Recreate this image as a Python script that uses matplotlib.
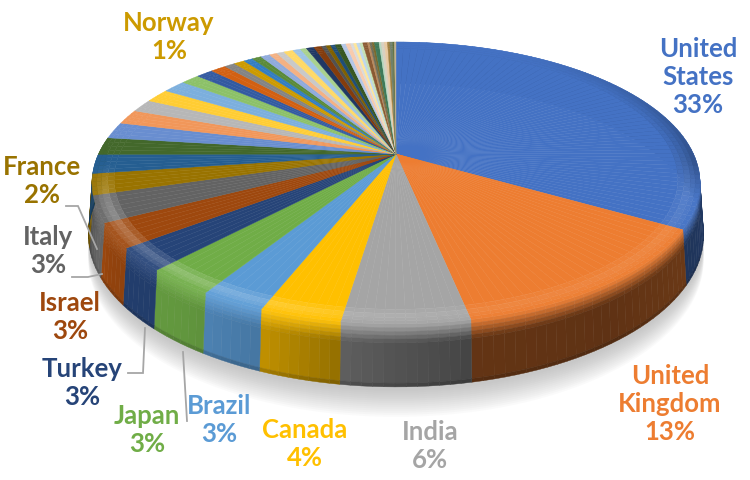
import numpy as np
import matplotlib
matplotlib.use('Agg')
import matplotlib.pyplot as plt
from matplotlib.colors import to_rgb

# ---- data (percent of total) ----
labelled_names = ["United\nStates", "United\nKingdom", "India", "Canada", "Brazil", "Japan",
                  "Turkey", "Israel", "Italy", "France"]
labelled_values = [33.4, 13.4, 5.6, 3.6, 2.9, 3.1, 2.6, 2.8, 3.0, 2.4]
middle_values = [2.2, 2.0, 1.9, 1.7, 1.5, 1.6, 1.5, 1.2, 1.1, 1.0, 0.7, 0.7]
middle_names = [None] * 11 + ["Norway"]
tail_values = [0.6, 0.6, 0.6, 0.5, 0.5, 0.6, 0.5, 0.4,
               0.5, 0.5, 0.3, 0.3, 0.3, 0.4, 0.3, 0.3, 0.2, 0.2, 0.2, 0.2,
               0.3, 0.15, 0.15, 0.15, 0.3, 0.15, 0.2, 0.2, 0.15, 0.2, 0.1, 0.1]
tail_colors = ["#327DC2", "#5A8A39", "#8FAADC", "#F4B183", "#C9C9C9", "#FFD966", "#9DC3E6", "#A9D18E", "#203864",
               "#843C0C", "#525252", "#7F6000", "#1F4E79", "#385723", "#B4C7E7", "#F8CBAD", "#DBDBDB",
               "#FFE699", "#BDD7EE", "#C5E0B4", "#8A5A33", "#B88A5E", "#6E6E5A", "#7A6A2E", "#3F7A5A",
               "#B8D8C0", "#D8D0C0", "#E8C8A0", "#A08040", "#70806A", "#5D6E3A", "#C0B090"]
head_colors = ["#4472C4", "#ED7D31", "#A5A5A5", "#FFC000", "#5B9BD5", "#70AD47",
               "#264478", "#9E480E", "#636363", "#997300",
               "#255E91", "#43682B", "#698ED0", "#F1975A", "#B7B7B7", "#FFCD33", "#7CAFDD", "#8CC168",
               "#335AA1", "#D26012", "#848484", "#CC9A00"]

values = labelled_values + middle_values + tail_values
names = labelled_names + middle_names + [None] * len(tail_values)
colors = head_colors + tail_colors

# ---- layout ----
CX, CY, A, B, K, H = 396, 155, 297.5, 135, 0.2057, 50
label_pos = {"United\nStates": (698, 77), "United\nKingdom": (670, 404), "India": (430, 446), "Canada": (305, 444),
             "Brazil": (219, 420), "Japan": (147, 430), "Turkey": (82, 383), "Israel": (70, 317),
             "Italy": (48, 251), "France": (42, 181), "Norway": (169, 37)}
leaders = [([66, 78, 97], [207, 207, 250]), ([72, 88, 102], [278, 278, 275]),
           ([128, 143, 145], [374, 374, 329]), ([187, 183], [422, 353])]


def project(pct, r=1.0):
    t = np.asarray(pct) * 2 * np.pi / 100
    X, v = r * np.sin(t), -r * np.cos(t)
    w = 1 - K * v
    return CX + A * X / w, CY + B * v / w, w


def shade(p):
    return np.interp(p, [20, 28, 40, 47, 52, 56, 60, 66, 68, 71, 80],
                     [.5, .5, .4, .42, .56, .76, .87, .92, 1.03, .75, .7])


def mix(c, d, a):
    return tuple((1 - a) * np.array(c) + a * np.array(d))


def scale(c, s):
    return tuple(np.clip(np.array(c) * s, 0, 1))


fig = plt.figure(figsize=(7.5, 4.81), dpi=100)
ax = fig.add_axes([0, 0, 1, 1])
ax.set_xlim(0, 750)
ax.set_ylim(481, 0)
ax.axis('off')

# soft shadow under the pie
full = np.linspace(25, 77, 160)
xs, ys, ws = project(full)
for i in range(14):
    ax.fill(np.r_[xs + (xs - CX) * .012, xs[::-1]],
            np.r_[ys + (H + 3 + i * 1.6) / ws, ys[::-1]],
            color='#808080', alpha=0.035, lw=0, zorder=1)

edges = np.r_[0, np.cumsum(values)]
edges = edges / edges[-1] * 100

# side wall
bands = [0, .06, .12, .18, .24, .30, .94, 1.0]
for i, col in enumerate(colors):
    c = to_rgb(col)
    lo, hi = edges[i], edges[i + 1]
    if hi < 24 or lo > 76:
        continue
    steps = np.linspace(lo, hi, max(2, int((hi - lo) / .5) + 2))
    for a, b in zip(steps[:-1], steps[1:]):
        s = shade((a + b) / 2)
        side = scale(c, s)
        xa, ya, wa = project(a)
        xb, yb, wb = project(b)
        for j in range(len(bands) - 1):
            h0, h1 = bands[j], bands[j + 1]
            f = min(1, ((h0 + h1) / 2) / .30)
            base = mix(c, (1, 1, 1), .08 * s)
            col_band = mix(base, side, f)
            if j == len(bands) - 2:
                col_band = scale(side, .85)
            px = [xa + (xa - CX) * .012 * h0, xb + (xb - CX) * .012 * h0,
                  xb + (xb - CX) * .012 * h1, xa + (xa - CX) * .012 * h1]
            py = [ya + H * h0 / wa, yb + H * h0 / wb, yb + H * h1 / wb, ya + H * h1 / wa]
            ax.fill(px, py, color=col_band, lw=.3, zorder=2)

# top surface with a lit rim
rings = [(0, .93), (.93, .95), (.95, .97), (.97, .985), (.985, 1.0)]
for i, col in enumerate(colors):
    c = to_rgb(col)
    lo, hi = edges[i], edges[i + 1]
    steps = np.linspace(lo, hi, max(2, int((hi - lo) / .5) + 2))
    for a, b in zip(steps[:-1], steps[1:]):
        p = (a + b) / 2
        front = np.clip((p - 24) / 6, 0, 1) * np.clip((74 - p) / 3, 0, 1)
        s = shade(p)
        rimdark = np.clip((p - 8) / 18, 0, 1) * np.clip((30 - p) / 4, 0, 1)
        for k, (r0, r1) in enumerate(rings):
            if k == 0:
                cc = c
            else:
                gain = [0, .5, 1, .7, .3][k] * front * (.30 * s - .05)
                cc = mix(c, (1, 1, 1), max(0, gain))
                cc = scale(cc, 1 - .28 * rimdark * k / 4)
            t = np.array([a, b])
            x1, y1, _ = project(t, r1)
            x0, y0, _ = project(t[::-1], r0)
            ax.fill(np.r_[x1, x0], np.r_[y1, y0], color=cc, lw=.3, zorder=3)

# leader lines
for lx, ly in leaders:
    ax.plot(lx, ly, color='#A6A6A6', lw=1.3, zorder=4, solid_joinstyle='miter')

# data labels
for n, v, col in zip(names, values, colors):
    if n is None:
        continue
    x, y = label_pos[n]
    ax.text(x, y, f"{n}\n{np.round(v + 1e-9):.0f}%", color=col, family='Lato', weight='bold',
            fontsize=18.5, ha='center', va='center', linespacing=1.22, zorder=5, multialignment='center')

fig.savefig('out.png', dpi=100)
